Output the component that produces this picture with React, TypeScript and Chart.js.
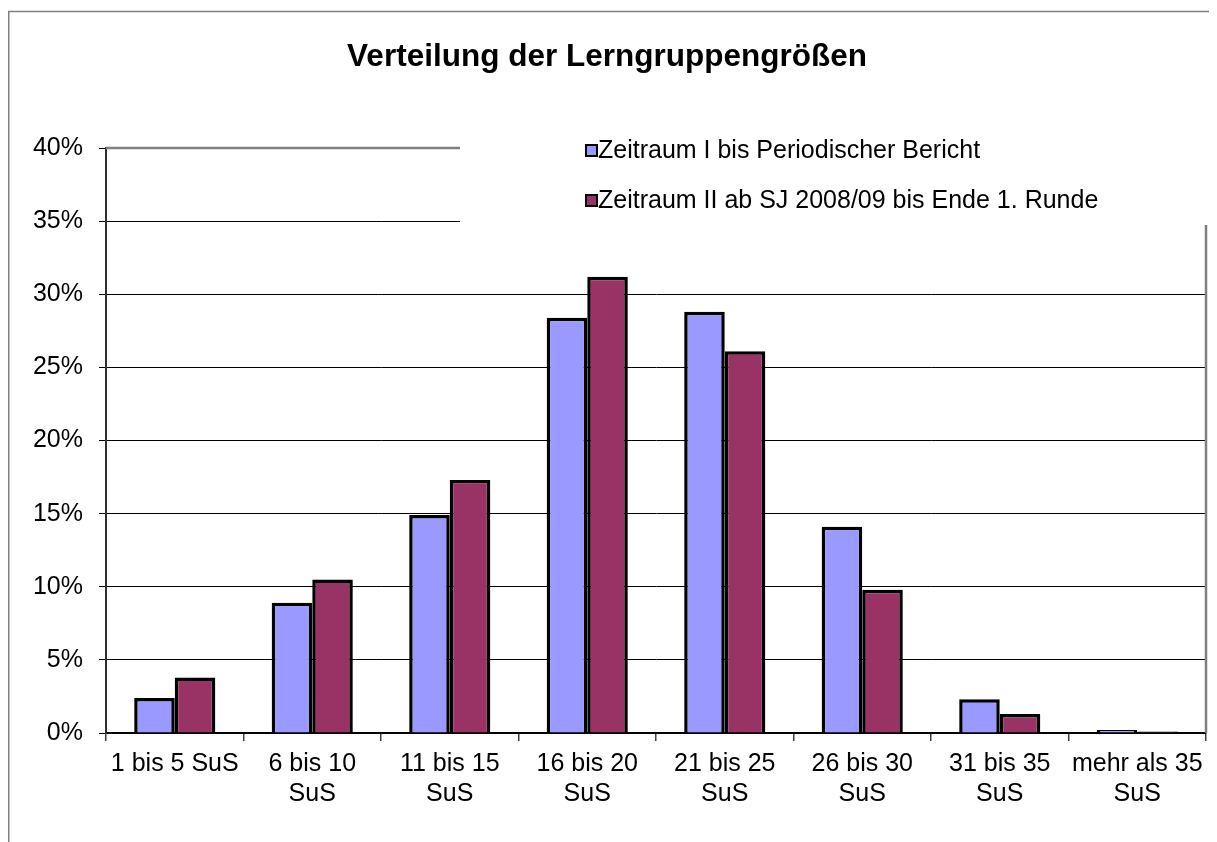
import React, { useEffect, useRef } from "react";
import { Chart, registerables } from "chart.js";

Chart.register(...registerables);

const TITLE = "Verteilung der Lerngruppengrößen";
const categories: string[][] = [
  ["1 bis 5 SuS"],
  ["6 bis 10", "SuS"],
  ["11 bis 15", "SuS"],
  ["16 bis 20", "SuS"],
  ["21 bis 25", "SuS"],
  ["26 bis 30", "SuS"],
  ["31 bis 35", "SuS"],
  ["mehr als 35", "SuS"],
];
const seriesLabels = [
  "Zeitraum I bis Periodischer Bericht",
  "Zeitraum II ab SJ 2008/09 bis Ende 1. Runde",
];
const series1 = [2.4, 8.9, 14.9, 28.4, 28.8, 14.1, 2.3, 0.2];
const series2 = [3.8, 10.5, 17.3, 31.2, 26.1, 9.8, 1.3, 0.1];
const colors = ["#9999FF", "#993366"];
const yTicks = [0, 5, 10, 15, 20, 25, 30, 35, 40];

const FONT = "'Liberation Sans', Arial, Helvetica, sans-serif";

const framePlugin = {
  id: "excelFrame",
  beforeDraw(chart: any) {
    const { ctx, width, height } = chart;
    ctx.save();
    ctx.fillStyle = "#ffffff";
    ctx.fillRect(0, 0, width, height);
    ctx.lineWidth = 1.5;
    ctx.strokeStyle = "#808080";
    ctx.beginPath();
    ctx.moveTo(0.75, height + 5);
    ctx.lineTo(0.75, 3.5);
    ctx.lineTo(width - 1, 3.5);
    ctx.stroke();
    ctx.strokeStyle = "#222222";
    ctx.beginPath();
    ctx.moveTo(width - 0.75, 3);
    ctx.lineTo(width - 0.75, height + 5);
    ctx.stroke();
    ctx.restore();
  },
  afterDatasetsDraw(chart: any) {
    const { ctx, chartArea } = chart;
    ctx.save();
    ctx.strokeStyle = "#808080";
    ctx.lineWidth = 2.5;
    ctx.beginPath();
    ctx.moveTo(chartArea.left, chartArea.top);
    ctx.lineTo(chartArea.right, chartArea.top);
    ctx.lineTo(chartArea.right, chartArea.bottom);
    ctx.stroke();
    ctx.restore();
  },
  afterDraw(chart: any) {
    const { ctx, chartArea } = chart;
    ctx.save();
    ctx.fillStyle = "#ffffff";
    ctx.fillRect(452, chartArea.top - 6, 1204 - 452, 217 - (chartArea.top - 6));
    const items = chart.data.datasets;
    ctx.font = `25px ${FONT}`;
    ctx.textBaseline = "middle";
    ctx.textAlign = "left";
    items.forEach((ds: any, i: number) => {
      const cy = 143 + i * 50;
      ctx.fillStyle = ds.backgroundColor;
      ctx.fillRect(578, cy - 6, 11, 11);
      ctx.strokeStyle = "#000000";
      ctx.lineWidth = 2;
      ctx.strokeRect(578, cy - 6, 11, 11);
      ctx.fillStyle = "#000000";
      ctx.fillText(ds.label, 590, cy);
    });
    ctx.restore();
  },
};

export default function App() {
  const ref = useRef<HTMLCanvasElement | null>(null);
  useEffect(() => {
    if (!ref.current) return;
    const chart = new Chart(ref.current, {
      type: "bar",
      data: {
        labels: categories,
        datasets: [
          {
            label: seriesLabels[0],
            data: series1,
            backgroundColor: colors[0],
            borderColor: "#000000",
            borderWidth: 3.5,
          },
          {
            label: seriesLabels[1],
            data: series2,
            backgroundColor: colors[1],
            borderColor: "#000000",
            borderWidth: 3.5,
          },
        ],
      },
      options: {
        animation: false,
        responsive: true,
        maintainAspectRatio: false,
        layout: { padding: { left: 0, right: 11, top: 0, bottom: 0 } },
        plugins: {
          legend: { display: false },
          tooltip: { enabled: false },
          title: {
            display: true,
            text: TITLE,
            color: "#000000",
            align: "center",
            font: { family: FONT, size: 31.5, weight: "bold" },
            padding: { top: 30, bottom: 72.2 },
          },
        },
        datasets: {
          bar: { categoryPercentage: 0.59, barPercentage: 1 },
        },
        scales: {
          x: {
            offset: true,
            grid: {
              offset: true,
              drawOnChartArea: false,
              drawTicks: true,
              tickLength: 8,
              color: "#404040",
              lineWidth: 1.5,
            },
            border: { display: true, color: "#000000", width: 1.5 },
            ticks: {
              color: "#000000",
              font: { family: FONT, size: 25, lineHeight: 1.2 },
              maxRotation: 0,
              autoSkip: false,
              padding: 8,
            },
            afterFit(scale: any) {
              scale.height = 109;
            },
          },
          y: {
            min: 0,
            max: 40,
            afterBuildTicks(scale: any) {
              scale.ticks = yTicks.map((v) => ({ value: v }));
            },
            grid: {
              color: "#000000",
              lineWidth: 1,
              drawTicks: true,
              tickLength: 7,
              tickColor: "#000000",
            },
            border: { display: true, color: "#303030", width: 2 },
            ticks: {
              color: "#000000",
              font: { family: FONT, size: 25 },
              padding: 16,
              callback: (v: any) => `${v}%`,
            },
            afterFit(scale: any) {
              scale.width = 98;
            },
          },
        },
      },
      plugins: [framePlugin],
    } as any);
    return () => chart.destroy();
  }, []);
  return (
    <div style={{ width: "1209px", height: "834px", position: "relative" }}>
      <canvas ref={ref} />
    </div>
  );
}
